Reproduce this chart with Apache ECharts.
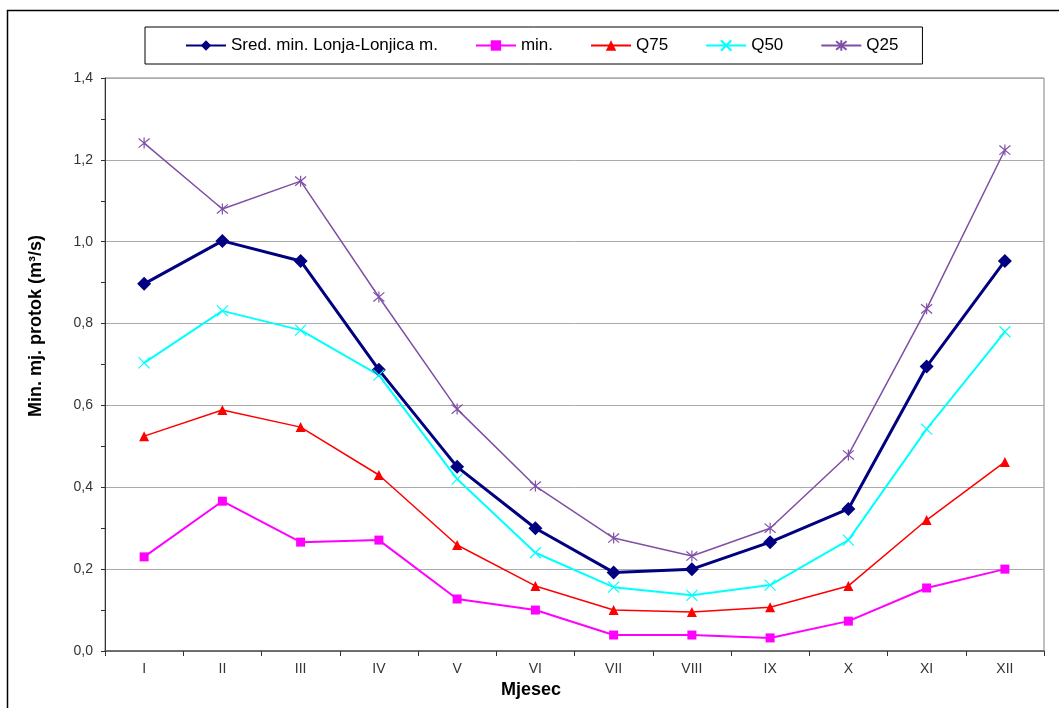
<!DOCTYPE html>
<html>
<head>
<meta charset="utf-8">
<script src="https://cdn.jsdelivr.net/npm/echarts@6/dist/echarts.min.js"></script>
<style>
  html, body { margin: 0; padding: 0; background: #fff; }
  #main { width: 1059px; height: 708px; }
</style>
</head>
<body>
<div id="main"></div>
<script>
// mjeseci
var months = ['I', 'II', 'III', 'IV', 'V', 'VI', 'VII', 'VIII', 'IX', 'X', 'XI', 'XII'];
// srednji minimalni protok
var sredMin = [0.897, 1.002, 0.953, 0.687, 0.450, 0.300, 0.192, 0.200, 0.266, 0.347, 0.695, 0.953];
var minVals = [0.230, 0.366, 0.266, 0.271, 0.127, 0.100, 0.039, 0.039, 0.032, 0.073, 0.154, 0.200];
var q75 = [0.525, 0.589, 0.547, 0.430, 0.259, 0.159, 0.100, 0.095, 0.107, 0.159, 0.320, 0.462];
var q50 = [0.704, 0.831, 0.784, 0.674, 0.420, 0.240, 0.156, 0.136, 0.161, 0.271, 0.542, 0.780];
var q25 = [1.241, 1.080, 1.148, 0.865, 0.591, 0.403, 0.276, 0.232, 0.300, 0.479, 0.836, 1.224];

var xMark = 'path://M0,0L10,10M0,10L10,0';
var starMark = 'path://M0,0L10,10M0,10L10,0M5,-1L5,11';

var myChart = echarts.init(document.getElementById('main'));
myChart.setOption({
    animation: false,
    textStyle: { fontFamily: 'Liberation Sans, Arial, sans-serif' },
    graphic: [
        // okvir
        { type: 'polyline', shape: { points: [[7.5, 708], [7.5, 10.5], [1059, 10.5]] },
          style: { stroke: '#000', lineWidth: 1.5, fill: null } },
        // naziv osi y
        { type: 'text', x: 36, y: 326, rotation: Math.PI / 2,
          style: { text: 'Min. mj. protok (m³/s)', font: 'bold 18px Liberation Sans, Arial, sans-serif',
                   fill: '#000', align: 'center', verticalAlign: 'middle' } },
        // naziv osi x
        { type: 'text', x: 531, y: 690,
          style: { text: 'Mjesec', font: 'bold 18px Liberation Sans, Arial, sans-serif',
                   fill: '#000', align: 'center', verticalAlign: 'middle' } }
    ],
    legend: {
        left: 145,
        top: 27,
        padding: [10, 24, 10, 40],
        borderColor: '#000',
        borderWidth: 1,
        itemWidth: 40,
        itemHeight: 13,
        itemGap: 37,
        textStyle: { fontSize: 17, color: '#000' }
    },
    grid: {
        left: 105,
        right: 15,
        top: 78,
        bottom: 57,
        show: true,
        borderColor: '#808080',
        borderWidth: 1
    },
    xAxis: {
        type: 'category',
        data: months,
        axisLine: { lineStyle: { color: '#555', width: 1.5 } },
        axisTick: { show: true, length: 5, lineStyle: { color: '#333' } },
        axisLabel: { fontSize: 14, color: '#333', margin: 11 }
    },
    yAxis: {
        type: 'value',
        min: 0,
        max: 1.4,
        interval: 0.2,
        axisLine: { show: true, lineStyle: { color: '#333' } },
        axisTick: { show: true, length: 4, lineStyle: { color: '#333' } },
        minorTick: { show: true, splitNumber: 2, length: 4, lineStyle: { color: '#333' } },
        axisLabel: {
            fontSize: 14, color: '#333', margin: 12,
            formatter: function (v) { return v.toFixed(1).replace('.', ','); }
        },
        splitLine: { show: true, lineStyle: { color: '#aaa', width: 1 } }
    },
    series: [
        {
            name: 'Sred. min. Lonja-Lonjica m.',
            type: 'line',
            data: sredMin,
            symbol: 'diamond',
            symbolSize: 14,
            itemStyle: { color: '#000080' },
            lineStyle: { width: 3, color: '#000080' }
        },
        {
            name: 'min.',
            type: 'line',
            data: minVals,
            symbol: 'rect',
            symbolSize: 9,
            itemStyle: { color: '#ff00ff' },
            lineStyle: { width: 2, color: '#ff00ff' }
        },
        {
            name: 'Q75',
            type: 'line',
            data: q75,
            symbol: 'triangle',
            symbolSize: 10,
            itemStyle: { color: '#ff0000' },
            lineStyle: { width: 1.5, color: '#ff0000' }
        },
        {
            name: 'Q50',
            type: 'line',
            data: q50,
            symbol: xMark,
            symbolSize: 11,
            itemStyle: { color: 'none', borderColor: '#00ffff', borderWidth: 1.2 },
            lineStyle: { width: 2, color: '#00ffff' }
        },
        {
            name: 'Q25',
            type: 'line',
            data: q25,
            symbol: starMark,
            symbolSize: 11,
            itemStyle: { color: 'none', borderColor: '#8050a8', borderWidth: 1.2 },
            lineStyle: { width: 1.5, color: '#7f4fa5' }
        }
    ]
});
</script>
</body>
</html>
